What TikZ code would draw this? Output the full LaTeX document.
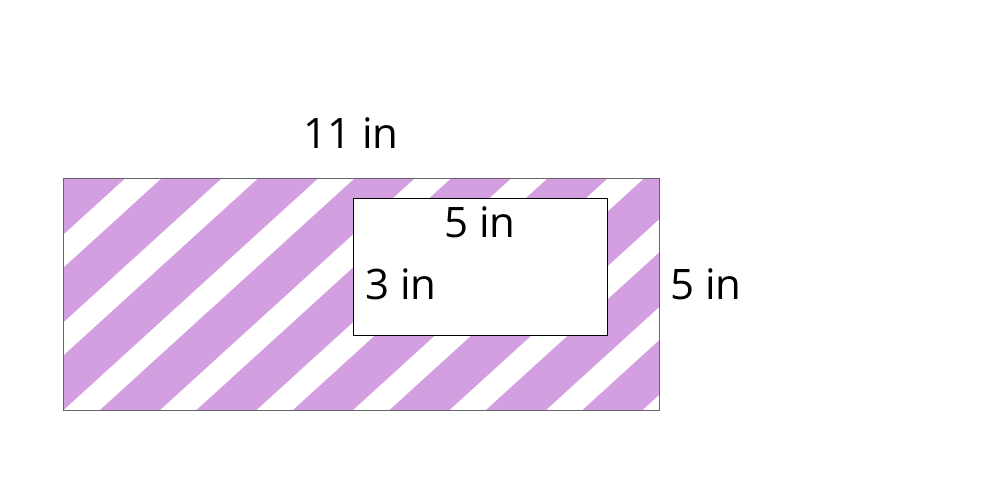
\documentclass[tikz,border=0pt]{standalone}
\usepackage{fontspec}
\setmainfont{Open Sans}
\usepackage{tikz}
\usetikzlibrary{positioning}
\definecolor{stripe}{HTML}{D49FE0}
\tikzset{dimlabel/.style={anchor=base, inner sep=0pt, font=\fontsize{42}{48}\selectfont}}

\begin{document}
\begin{tikzpicture}[x=1pt, y=1pt]
\useasboundingbox (0,0) rectangle (1000,500);
\begin{scope}
\clip (63,90) rectangle (659,322);
\foreach \k in {-3,...,5}
  \fill [stripe] ({100+96.5*\k},90) -- ({160+96.5*\k},90) -- ({415+96.5*\k},322) -- ({355+96.5*\k},322) -- cycle;
\end{scope}
\draw [gray!80!black, line width=0.8pt] (63,90) rectangle (659,322);
\draw [fill=white, line width=0.9pt] (353,165) rectangle (607,302);
\node [dimlabel] (length) at (351,351) {11 in};
\node [dimlabel] (inner width) at (480,262) {5 in};
\node [dimlabel] (inner height) at (401,200) {3 in};
\node [dimlabel] (height) at (706,200) {5 in};
\end{tikzpicture}
\end{document}
